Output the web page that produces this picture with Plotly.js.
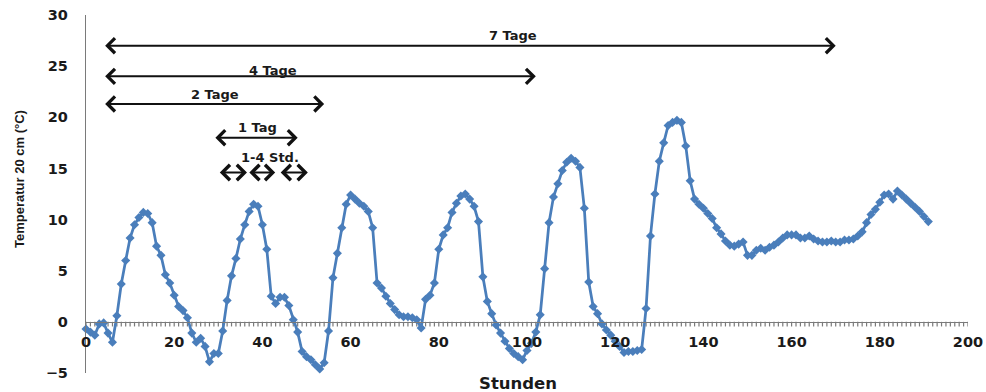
<!DOCTYPE html>
<html><head><meta charset="utf-8">
<script src="https://cdn.plot.ly/plotly-3.0.1.min.js"></script>
<style>html,body{margin:0;padding:0;background:#fff}#chart{width:986px;height:392px}</style>
</head><body><div id="chart"></div>
<script>
// Temperature at 20 cm depth (°C), one reading per hour, grouped per day
const day1 = [-0.7,-1.0,-1.3,-0.2,-0.1,-1.1,-2.0,0.6,3.7,6.0,8.2,9.5,10.2,10.7,10.6,9.7,7.4,6.5,4.6,3.8,2.6,1.5,1.1,0.4];
const day2 = [-1.1,-2.0,-1.6,-2.4,-3.9,-3.1,-3.1,-0.9,2.1,4.5,6.2,8.1,9.5,10.8,11.5,11.3,9.5,7.1,2.5,1.8,2.4,2.4,1.6,0.2];
const day3 = [-1.0,-2.9,-3.4,-3.7,-4.2,-4.6,-4.0,-0.9,4.3,6.7,9.2,11.5,12.4,12.0,11.6,11.3,10.8,9.2,3.8,3.3,2.5,1.8,1.2,0.7];
const day4 = [0.5,0.5,0.4,0.2,-0.6,2.2,2.6,3.8,7.1,8.5,9.2,10.7,11.6,12.3,12.5,12.0,11.3,9.8,4.4,2.0,0.8,-0.3,-1.1,-1.9];
const day5 = [-2.6,-3.1,-3.4,-3.7,-2.8,-2.1,-1.0,0.7,5.2,9.7,12.2,13.5,14.8,15.6,16.0,15.7,15.1,11.1,3.9,1.5,0.8,-0.2,-0.8,-1.3];
const day6 = [-1.9,-2.4,-3.0,-2.9,-2.9,-2.8,-2.7,1.3,8.4,12.5,15.7,17.5,19.2,19.5,19.7,19.5,17.2,13.8,12.0,11.5,11.1,10.6,10.1,9.2];
const day7 = [8.6,7.9,7.5,7.4,7.6,7.8,6.5,6.5,7.0,7.2,7.0,7.3,7.5,7.8,8.2,8.5,8.5,8.5,8.2,8.2,8.4,8.1,7.9,7.8];
const day8 = [7.8,7.9,7.8,7.8,8.0,8.0,8.1,8.4,8.8,9.7,10.5,11.0,11.7,12.4,12.5,12.0,12.8,12.4,12.0,11.6,11.2,10.8,10.3,9.8];
const temps = [].concat(day1, day2, day3, day4, day5, day6, day7, day8);
const HOUR_STEP = 1;
const hours = temps.map((_, i) => i * HOUR_STEP);

const xMin = 0, xMax = 200;
const yMin = -5, yMax = 30;
const xLabelStep = 20;   // labelled ticks
const xMinorStep = 1;    // small tick marks every hour
const yTickStep = 5;

// Tick positions: every hour on x, every 5 °C on y
const xTickVals = [];
for (let v = xMin; v <= xMax; v += xMinorStep) xTickVals.push(v);
const xLabelVals = xTickVals.filter(v => v % xLabelStep === 0);
const yTickVals = [];
for (let v = yMin; v <= yMax; v += yTickStep) yTickVals.push(v);

// Time-span annotations (hours)
const spanLabels = ['7 Tage', '4 Tage', '2 Tage', '1 Tag'];
const spanStart = [4, 4, 4, 29];
const spanEnd = [170, 102, 54, 48];
const spanLevel = [27, 24, 21.3, 18];
const labelX = [96.8, 42.4, 29.3, 39];
const labelY = [28.0, 24.6, 22.2, 19.0];
const stdLabel = '1-4 Std.';
const stdLabelPos = [41.7, 16.1];
const stdStart = [30, 36.7, 43.8];
const stdEnd = [36.5, 42.9, 50.3];
const stdLevel = 14.6;

const blue = '#4a7ebb';
const axisGray = '#7a7a7a';
const txt = '#1a1a1a';
const tickFont = {family: 'DejaVu Sans', size: 14.5, color: txt, weight: 'bold'};
const annFont = {family: 'DejaVu Sans', size: 13, color: txt, weight: 'bold'};

// Axis tick marks built as one line trace with gaps (axis decoration, not data)
const xTickLen = 0.45;  // °C
const yTickLen = 1.2;   // hours
const tickX = [], tickY = [];
xTickVals.forEach(v => { tickX.push(v, v, null); tickY.push(0, -xTickLen, null); });
yTickVals.forEach(v => { tickX.push(xMin, xMin - yTickLen, null); tickY.push(v, v, null); });
const tickTrace = {
  x: tickX, y: tickY, type: 'scatter', mode: 'lines',
  line: {color: axisGray, width: 1.2}, connectgaps: false,
  cliponaxis: false, hoverinfo: 'skip'
};

const trace = {
  x: hours, y: temps, type: 'scatter', mode: 'lines+markers',
  line: {color: blue, width: 2.75},
  marker: {symbol: 'diamond', size: 7, color: blue},
  cliponaxis: false, hoverinfo: 'x+y'
};

const annotations = [];
function arrow(x0, x1, y, size, w) {
  annotations.push({
    x: x1, y: y, ax: x0, ay: y, xref: 'x', yref: 'y', axref: 'x', ayref: 'y',
    text: '', showarrow: true, arrowside: 'end+start', arrowhead: 4, startarrowhead: 4,
    arrowsize: size, startarrowsize: size, arrowwidth: w, arrowcolor: '#111',
    standoff: 0, startstandoff: 0
  });
}
spanLabels.forEach((lab, i) => {
  arrow(spanStart[i], spanEnd[i], spanLevel[i], 1.45, 2);
  annotations.push({x: labelX[i], y: labelY[i], xref: 'x', yref: 'y', text: lab,
    showarrow: false, font: annFont, xanchor: 'center', yanchor: 'middle'});
});
stdStart.forEach((s, i) => arrow(s, stdEnd[i], stdLevel, 1.5, 2));
annotations.push({x: stdLabelPos[0], y: stdLabelPos[1], xref: 'x', yref: 'y', text: stdLabel,
  showarrow: false, font: annFont, xanchor: 'center', yanchor: 'middle'});
// axis titles
annotations.push({x: 0.4898, y: -0.028, xref: 'paper', yref: 'paper', text: 'Stunden',
  showarrow: false, font: {family: 'DejaVu Sans', size: 16.5, color: txt, weight: 'bold'},
  xanchor: 'center', yanchor: 'middle'});
annotations.push({x: -0.0748, y: 0.542, xref: 'paper', yref: 'paper', text: 'Temperatur 20 cm (°C)',
  textangle: -90, showarrow: false, font: {family: 'Liberation Sans', size: 13, color: txt, weight: 'bold'},
  xanchor: 'center', yanchor: 'middle'});

const layout = {
  width: 986, height: 392,
  margin: {l: 86, r: 18, t: 15, b: 19, pad: 0},
  paper_bgcolor: '#fff', plot_bgcolor: '#fff', showlegend: false,
  xaxis: {
    range: [xMin, xMax], anchor: 'free', position: (0 - yMin) / (yMax - yMin),
    showline: true, linecolor: axisGray, linewidth: 1.2,
    ticks: '', tickmode: 'array', tickvals: xLabelVals, ticklabelstandoff: 7,
    showgrid: false, zeroline: false, tickfont: tickFont
  },
  yaxis: {
    range: [yMin, yMax], domain: [0, 1],
    showline: true, linecolor: axisGray, linewidth: 1.2,
    ticks: '', tickmode: 'array', tickvals: yTickVals, ticklabelstandoff: 14,
    showgrid: false, zeroline: false, tickfont: tickFont
  },
  annotations: annotations
};

Plotly.newPlot('chart', [tickTrace, trace], layout, {staticPlot: true, displayModeBar: false});
</script>
</body></html>
